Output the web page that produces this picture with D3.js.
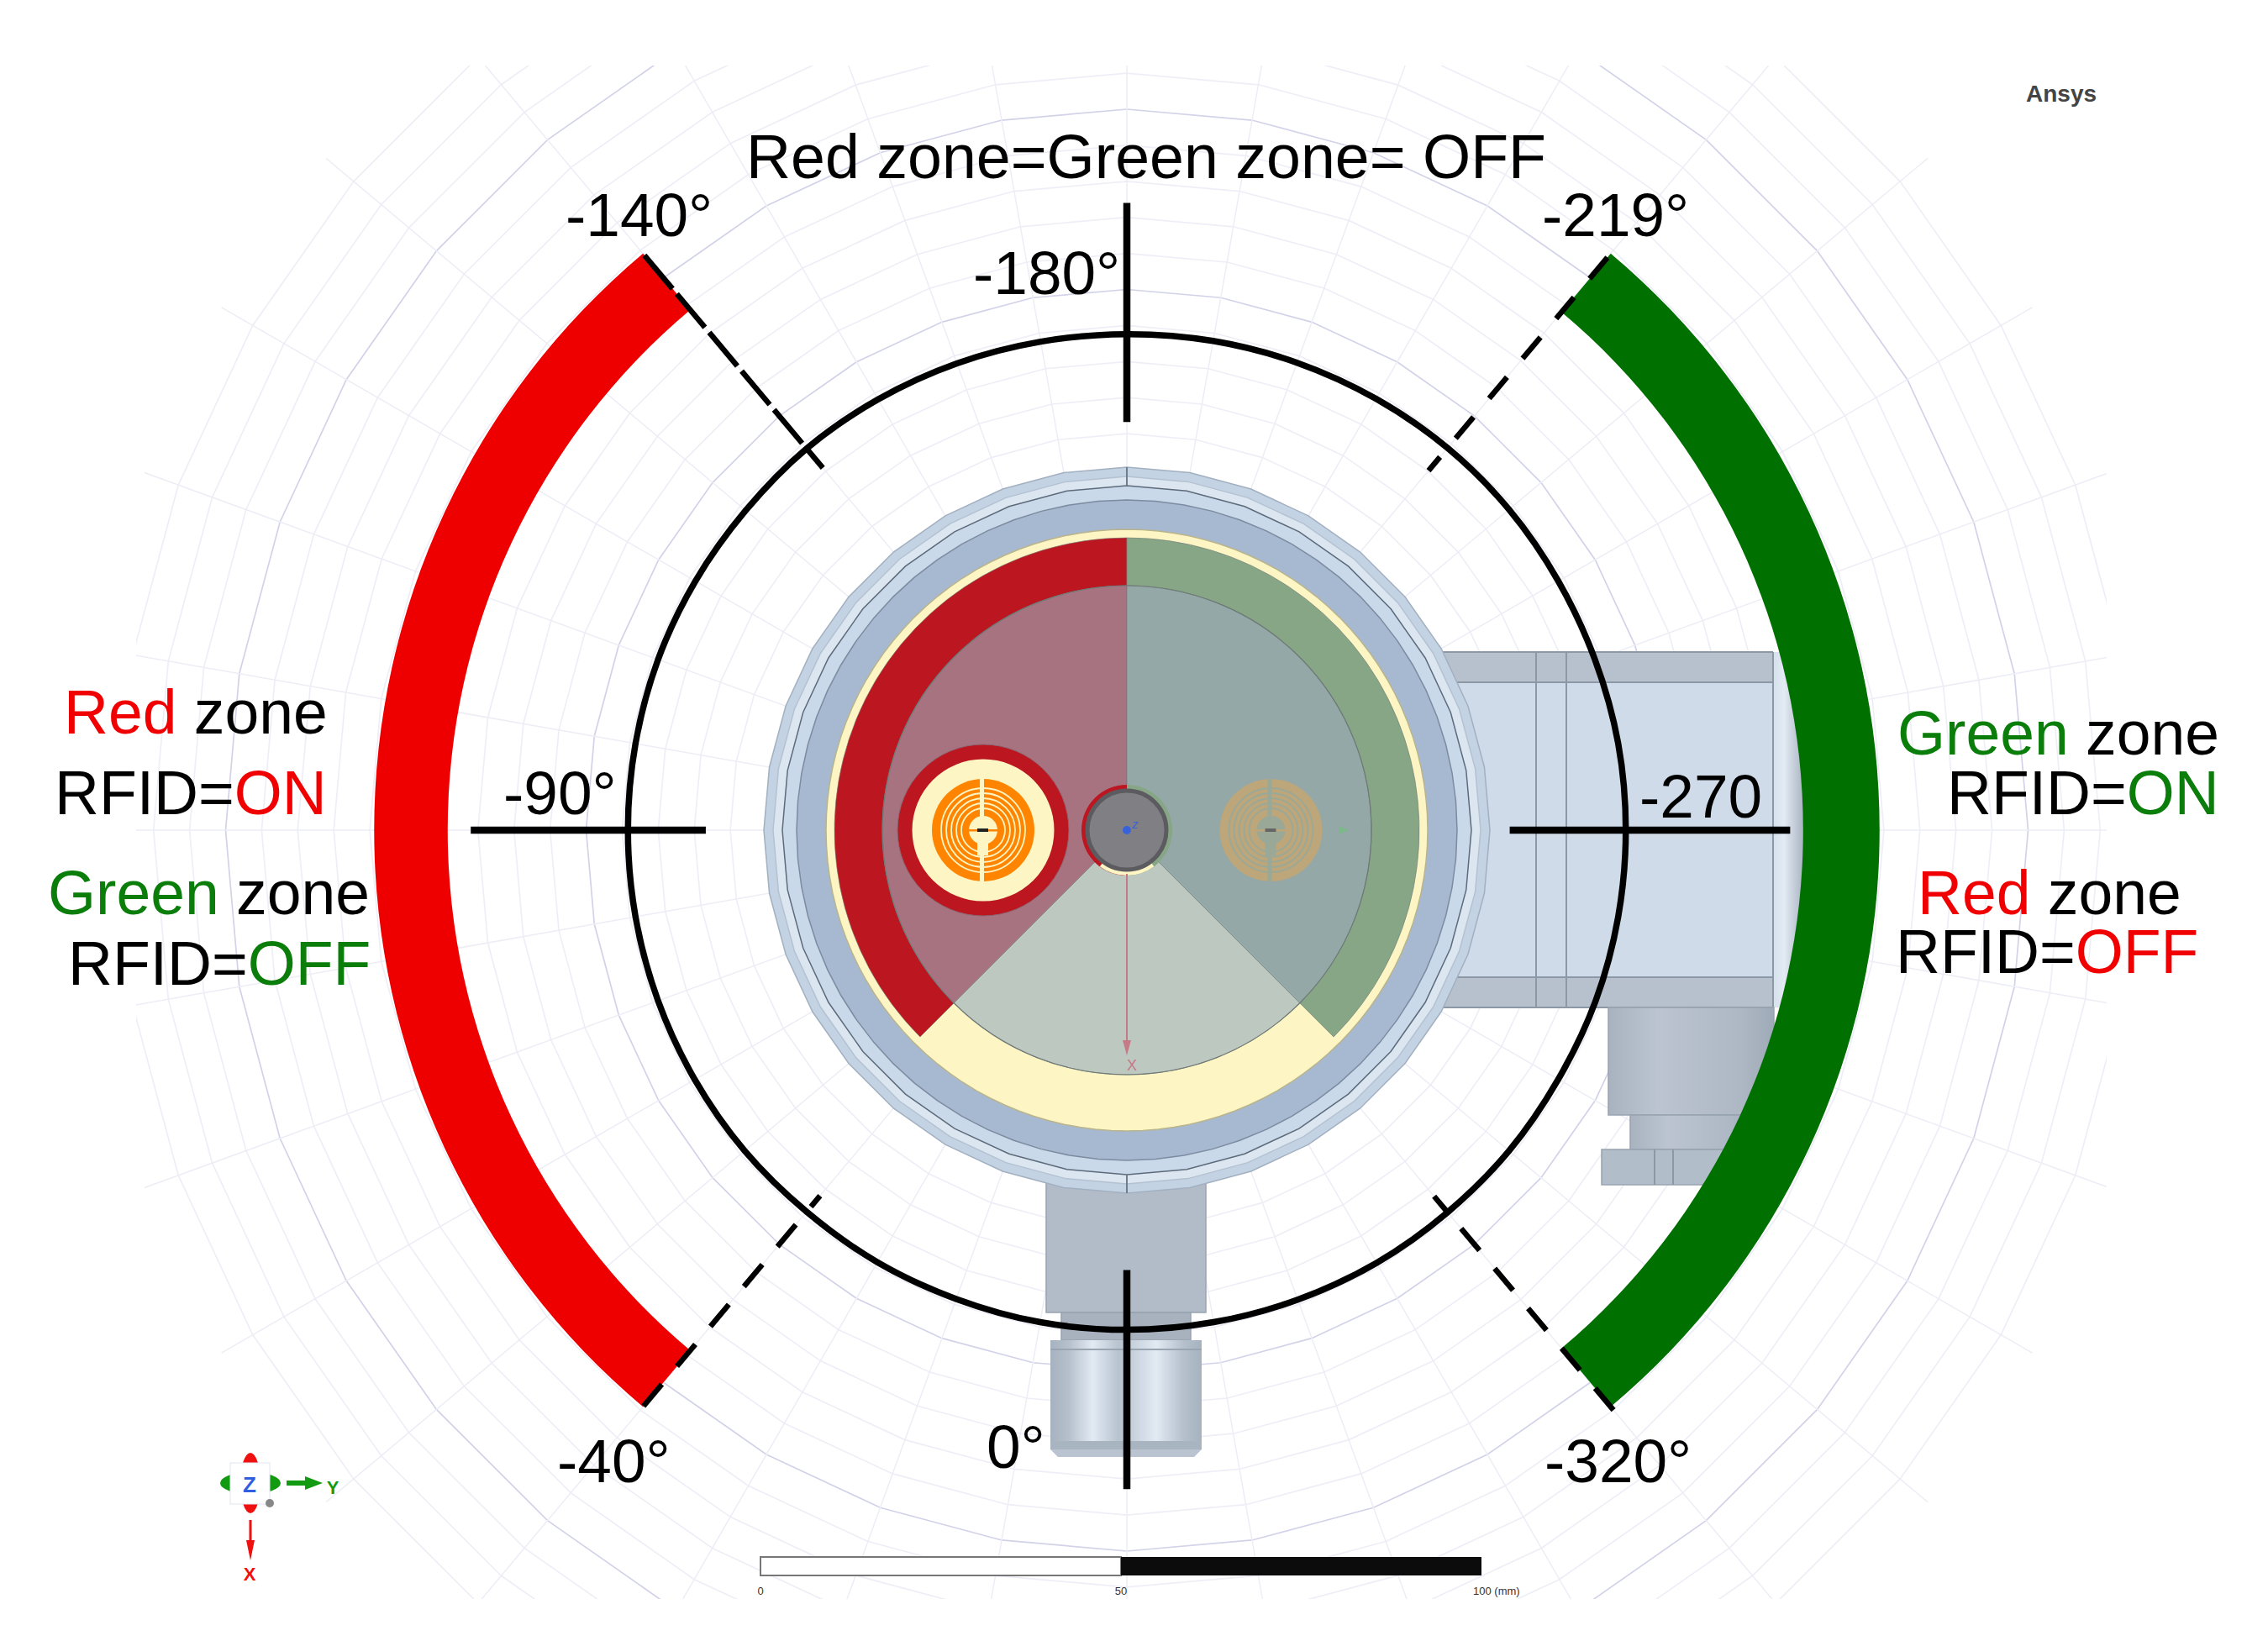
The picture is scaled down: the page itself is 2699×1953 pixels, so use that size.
<!DOCTYPE html>
<html>
<head>
<meta charset="utf-8">
<script src="https://d3js.org/d3.v7.min.js"></script>
<style>
html, body { margin: 0; padding: 0; background: #fff; }
text { font-family: "Liberation Sans", Arial, sans-serif; }
</style>
</head>
<body>
<svg id="chart"></svg>
<script>
const width = 2699;
const height = 1953;
const cx = 1341;
const cy = 988;

// polar grid, all in mm
const gridRings = [5, 10, 15, 20, 25, 30, 35, 40, 45, 50, 55, 60, 65, 70, 75, 80, 85, 90, 95, 100, 105, 110, 115, 120, 125, 130, 135, 140];
const gridSpokes = [0, 10, 20, 30, 40, 50, 60, 70, 80, 90, 100, 110, 120, 130, 140, 150, 160, 170, 180, 190, 200, 210, 220, 230, 240, 250, 260, 270, 280, 290, 300, 310, 320, 330, 340, 350];
const majorRingEvery = 25;
const gridSpokeEnd = 145;

// read range circle: angle (deg) and radius (mm)
const readAngles = [0, -10, -20, -30, -40, -50, -60, -70, -80, -90, -100, -110, -120, -130, -140, -150, -160, -170, -180, -190, -200, -210, -220, -230, -240, -250, -260, -270, -280, -290, -300, -310, -320, -330, -340, -350];
const readRadius = [69.3, 69.3, 69.2, 69.2, 69.1, 69.2, 69.2, 69.2, 69.2, 69.2, 69.2, 69.2, 69.1, 69.0, 69.1, 69.0, 68.9, 68.8, 68.8, 68.9, 69.0, 69.1, 69.2, 69.2, 69.1, 69.1, 69.2, 69.2, 69.2, 69.2, 69.1, 69.2, 69.2, 69.3, 69.3, 69.3];

// zones
const zoneNames = ["Red", "Green"];
const zoneFrom = [-40, -220];
const zoneTo = [-140, -320];
const zoneInner = [94.2, 93.8];
const zoneOuter = [104.4, 104.4];
const zoneColors = ["#ee0000", "#007000"];

// spokes
const solidAngles = [0, -90, -180, -270];
const solidInner = [61, 58.4, 56.6, 53.1];
const solidOuter = [91.4, 91, 87, 92];
const dashAngles = [-40, -140, -220, -320];
const dashInner = [66.2, 65.6, 65.1, 66.3];
const dashOuter = [104.3, 104.1, 103.7, 105];
const dashOn = [34, 52, 33, 34];
const dashOff = [28, 8, 29, 28];

// scale bar
const barTicks = [0, 50, 100];
const barLabels = ["0", "50", "100 (mm)"];

const rScale = d3.scaleLinear().domain([0, 100]).range([0, 858]);
const toRad = d => -(d + 180) * Math.PI / 180;

const svg = d3.select("#chart").attr("width", width).attr("height", height)
    .attr("viewBox", `0 0 ${width} ${height}`)
    .style("display", "block");

const defs = svg.append("defs");
defs.append("clipPath").attr("id", "gridClip")
    .append("rect").attr("x", 162).attr("y", 78).attr("width", 2345).attr("height", 1825);

function addGradient(id, stops) {
    const g = defs.append("linearGradient").attr("id", id);
    stops.forEach(s => g.append("stop").attr("offset", s[0]).attr("stop-color", s[1]));
}
addGradient("nutGrad", [[0, "#a7b2c0"], [0.12, "#b5c0cc"], [0.28, "#e2eaf3"], [0.45, "#b7c3cf"], [0.7, "#e2eaf3"], [0.88, "#b5c0cc"], [1, "#a7b2c0"]]);
addGradient("neckGrad", [[0, "#a9b3c0"], [0.3, "#bbc4d0"], [0.8, "#aeb8c4"], [1, "#9faab8"]]);
addGradient("capGrad", [[0, "#d5e0ec"], [0.35, "#e3ebf4"], [1, "#a8b2c0"]]);

// grid
const gridG = svg.append("g").attr("clip-path", "url(#gridClip)")
    .append("g").attr("transform", `translate(${cx},${cy})`);
const ringLine = d3.lineRadial().curve(d3.curveLinearClosed);
gridG.selectAll(".ring").data(gridRings).join("path")
    .attr("class", "ring")
    .attr("d", r => ringLine(gridSpokes.map(a => [a * Math.PI / 180, rScale(r)])))
    .attr("fill", "none")
    .attr("stroke", r => r % majorRingEvery === 0 ? "#d2d2e9" : "#eeeef7")
    .attr("stroke-width", 1.7);
gridG.selectAll(".spoke").data(gridSpokes).join("line")
    .attr("class", "spoke")
    .attr("x2", a => rScale(gridSpokeEnd) * Math.sin(a * Math.PI / 180))
    .attr("y2", a => -rScale(gridSpokeEnd) * Math.cos(a * Math.PI / 180))
    .attr("stroke", "#ededf6")
    .attr("stroke-width", 1.5);

// device body, offsets in px from the centre
const body = svg.append("g").attr("transform", `translate(${cx},${cy})`);
const lineCol = "#8c98a6";
function box(x0, y0, x1, y1, fill, stroke) {
    return body.append("rect").attr("x", x0).attr("y", y0).attr("width", x1 - x0).attr("height", y1 - y0)
        .attr("fill", fill).attr("stroke", stroke || "none").attr("stroke-width", 1.5);
}
function vline(x, y0, y1, col) {
    body.append("line").attr("x1", x).attr("x2", x).attr("y1", y0).attr("y2", y1).attr("stroke", col || lineCol).attr("stroke-width", 2);
}
function hline(x0, x1, y, col) {
    body.append("line").attr("x1", x0).attr("x2", x1).attr("y1", y).attr("y2", y).attr("stroke", col || lineCol).attr("stroke-width", 2);
}

// right housing
box(340, -212, 770, 211, "#cfdbe9");
box(340, -212, 770, -176, "#b7c1cd");
box(340, 175, 770, 211, "#b7c1cd");
box(769, -212, 806, 211, "url(#capGrad)");
hline(340, 769, -212); hline(340, 769, -176); hline(340, 769, 175); hline(340, 769, 211);
vline(487, -212, 211); vline(523, -212, 211); vline(769, -212, 211);
// lower right connector
box(573, 211, 770, 339, "url(#neckGrad)", "#98a3b0");
box(599, 339, 750, 380, "url(#neckGrad)", "#98a3b0");
box(565, 380, 740, 422, "#b2bdca", "#98a3b0");
vline(628, 380, 422); vline(650, 380, 422);
// bottom connector
box(-96, 405, 94, 574, "#b2bcc8", "#98a3b0");
box(-78, 574, 76, 607, "#a8b2be", "#98a3b0");
box(-91, 607, 89, 727, "url(#nutGrad)");
box(-91, 727, 89, 737, "#a9b4c1");
body.append("path").attr("d", "M-91,737L89,737L80,746L-82,746Z").attr("fill", "#b9c4d0");
hline(-91, 89, 618, "#9aa5b2");

// flange
const polyLine = d3.lineRadial().curve(d3.curveLinearClosed);
function flange(r, n, fill, stroke) {
    const pts = d3.range(n).map(i => [i * 2 * Math.PI / n, r]);
    body.append("path").attr("d", polyLine(pts)).attr("fill", fill).attr("stroke", stroke).attr("stroke-width", 1.5);
}
flange(432, 36, "#c3d3e4", "#a2b0c0");
flange(421, 36, "#dbe6f1", "#b4c1d0");
flange(410, 36, "#c9d9ea", "#5c6a7a");
flange(393, 72, "#a6b9d0", "#7c8ba0");
flange(358, 120, "#fdf5c3", "#b9b48c");
vline(0, -432, -410, "#6f7d8c");
vline(0, 410, 432, "#6f7d8c");

// zone rings inside the device
const innerArc = d3.arc();
const arcs = [
    [-45, -180, 291, 348, "#bc1620"],
    [-180, -315, 291, 348, "#87a686"],
    [-45, -180, 30, 291, "#a87380"],
    [-180, -315, 30, 291, "#94a8a8"],
    [-315, -405, 30, 291, "#bdc8c0"]
];
arcs.forEach(a => {
    body.append("path")
        .attr("d", innerArc({ startAngle: toRad(a[0]), endAngle: toRad(a[1]), innerRadius: a[2], outerRadius: a[3] }))
        .attr("fill", a[4])
        .attr("stroke", "#6f7a78").attr("stroke-width", 0.6);
});
body.append("circle").attr("r", 291).attr("fill", "none").attr("stroke", "#6f7a78").attr("stroke-width", 1.2);

// tag antennas
function tag(x, col, slot, bar) {
    const g = body.append("g").attr("transform", `translate(${x},0)`);
    g.append("circle").attr("r", 61).attr("fill", col);
    [50, 44, 38, 32, 26].forEach(r => {
        g.append("circle").attr("r", r).attr("fill", "none").attr("stroke", slot).attr("stroke-width", 1.8);
    });
    g.append("rect").attr("x", -4).attr("y", -61).attr("width", 5).attr("height", 122).attr("fill", slot);
    g.append("rect").attr("x", -7).attr("y", 0).attr("width", 13).attr("height", 30).attr("fill", slot);
    g.append("circle").attr("r", 17).attr("fill", slot);
    g.append("rect").attr("x", -17).attr("y", -1).attr("width", 34).attr("height", 2.5).attr("fill", col);
    g.append("rect").attr("x", -7).attr("y", -2).attr("width", 13).attr("height", 4).attr("fill", bar);
}
body.append("circle").attr("cx", -171).attr("r", 102).attr("fill", "#bc1620").attr("stroke", "#8c6670").attr("stroke-width", 1);
body.append("circle").attr("cx", -171).attr("r", 84.5).attr("fill", "#fdf5c3");
tag(-171, "#ff8400", "#fdf5c3", "#222");
tag(171.5, "#bda67a", "#9aa897", "#666");

// hub
body.append("path").attr("d", innerArc({ startAngle: 0, endAngle: -Math.PI, innerRadius: 46, outerRadius: 54 })).attr("fill", "#bc1620");
body.append("path").attr("d", innerArc({ startAngle: 0, endAngle: Math.PI, innerRadius: 46, outerRadius: 54 })).attr("fill", "#87a686");
body.append("path").attr("d", innerArc({ startAngle: 2.5, endAngle: 3.78, innerRadius: 46, outerRadius: 54 })).attr("fill", "#fdf5c3");
body.append("circle").attr("r", 47).attr("fill", "#808084").attr("stroke", "#5c5c60").attr("stroke-width", 5);
body.append("circle").attr("r", 5).attr("fill", "#3a62d8");
body.append("text").attr("x", 6).attr("y", -2).attr("font-size", 15).attr("fill", "#3a62d8").attr("font-style", "italic").text("z");

// local axis marks
body.append("line").attr("x1", 0).attr("x2", 0).attr("y1", 52).attr("y2", 262).attr("stroke", "#c67a86").attr("stroke-width", 2);
body.append("path").attr("d", "M-5,250L5,250L0,268Z").attr("fill", "#c67a86");
body.append("text").attr("x", 6).attr("y", 286).attr("text-anchor", "middle").attr("font-size", 18).attr("fill", "#c67a86").text("X");
body.append("path").attr("d", "M252,-5L252,5L264,0Z").attr("fill", "#7cb889");

// zones
const plot = svg.append("g").attr("transform", `translate(${cx},${cy})`);
const zoneArc = d3.arc();
plot.selectAll(".zone").data(zoneNames).join("path")
    .attr("class", "zone")
    .attr("d", (d, i) => zoneArc({
        startAngle: toRad(zoneFrom[i]), endAngle: toRad(zoneTo[i]),
        innerRadius: rScale(zoneInner[i]), outerRadius: rScale(zoneOuter[i])
    }))
    .attr("fill", (d, i) => zoneColors[i]);

// read circle
plot.append("path")
    .attr("d", d3.lineRadial().curve(d3.curveCatmullRomClosed)(readAngles.map((a, i) => [toRad(a), rScale(readRadius[i])])))
    .attr("fill", "none").attr("stroke", "#000").attr("stroke-width", 7.5);

function spokeEnd(a, r) {
    return [rScale(r) * Math.sin(toRad(a)), -rScale(r) * Math.cos(toRad(a))];
}
plot.selectAll(".solid").data(solidAngles).join("line")
    .attr("class", "solid")
    .attr("x1", (a, i) => spokeEnd(a, solidInner[i])[0]).attr("y1", (a, i) => spokeEnd(a, solidInner[i])[1])
    .attr("x2", (a, i) => spokeEnd(a, solidOuter[i])[0]).attr("y2", (a, i) => spokeEnd(a, solidOuter[i])[1])
    .attr("stroke", "#000").attr("stroke-width", 8.5);
plot.selectAll(".dash").data(dashAngles).join("line")
    .attr("class", "dash")
    .attr("x1", (a, i) => spokeEnd(a, dashOuter[i])[0]).attr("y1", (a, i) => spokeEnd(a, dashOuter[i])[1])
    .attr("x2", (a, i) => spokeEnd(a, dashInner[i])[0]).attr("y2", (a, i) => spokeEnd(a, dashInner[i])[1])
    .attr("stroke", "#000").attr("stroke-width", 6.5)
    .attr("stroke-dasharray", (a, i) => dashOn[i] + "," + dashOff[i]);

// labels
const labelText = ["-140°", "-219°", "-180°", "-90°", "-270", "0°", "-40°", "-320°"];
const labelX = [673, 1835, 1158, 599, 1951, 1174, 663, 1838];
const labelY = [281, 281, 350, 969, 973, 1747, 1764, 1764];
const labelSize = 73;
svg.selectAll(".deg").data(labelText).join("text")
    .attr("class", "deg")
    .attr("x", (d, i) => labelX[i]).attr("y", (d, i) => labelY[i])
    .attr("font-size", labelSize).attr("fill", "#000")
    .text(d => d);

const titleText = "Red zone=Green zone= OFF";
svg.append("text").attr("x", 888).attr("y", 212).attr("font-size", 73.5).attr("fill", "#000").text(titleText);

const noteFirst = ["Red", "RFID=", "Green", "RFID=", "Green", "RFID=", "Red", "RFID="];
const noteSecond = [" zone", "ON", " zone", "OFF", " zone", "ON", " zone", "OFF"];
const noteFirstCol = ["#f00000", "#000", "#0a7d0a", "#000", "#0a7d0a", "#000", "#f00000", "#000"];
const noteSecondCol = ["#000", "#f00000", "#000", "#0a7d0a", "#000", "#0a7d0a", "#000", "#f00000"];
const noteX = [76, 65, 57, 81, 2258, 2317, 2282, 2256];
const noteY = [873, 969, 1088, 1172, 898, 969, 1088, 1158];
const notes = svg.selectAll(".note").data(noteFirst).join("text")
    .attr("class", "note")
    .attr("x", (d, i) => noteX[i]).attr("y", (d, i) => noteY[i])
    .attr("font-size", 73.3).style("white-space", "pre");
notes.append("tspan").text(d => d).attr("fill", (d, i) => noteFirstCol[i]);
notes.append("tspan").text((d, i) => noteSecond[i]).attr("fill", (d, i) => noteSecondCol[i]);

svg.append("text").attr("x", 2411).attr("y", 121).attr("font-size", 28).attr("font-weight", "bold").attr("fill", "#444").text("Ansys");

// scale bar
const barScale = d3.scaleLinear().domain([0, 100]).range([905, 1763]);
const barY = 1853;
const barH = 22;
svg.append("rect").attr("x", barScale(0)).attr("y", barY).attr("width", barScale(50) - barScale(0)).attr("height", barH)
    .attr("fill", "#fff").attr("stroke", "#777").attr("stroke-width", 2);
svg.append("rect").attr("x", barScale(50)).attr("y", barY).attr("width", barScale(100) - barScale(50)).attr("height", barH)
    .attr("fill", "#0c0c0c");
svg.selectAll(".barTick").data(barTicks).join("text")
    .attr("class", "barTick")
    .attr("x", (d, i) => barScale(d) + (i === 2 ? -10 : 0)).attr("y", 1898)
    .attr("text-anchor", (d, i) => i === 2 ? "start" : "middle")
    .attr("font-size", 13).attr("fill", "#333")
    .text((d, i) => barLabels[i]);

// triad
const triad = svg.append("g").attr("transform", "translate(298,1765)");
triad.append("ellipse").attr("cy", 0).attr("rx", 12).attr("ry", 36).attr("fill", "#f01010");
triad.append("ellipse").attr("rx", 36).attr("ry", 13).attr("fill", "#129a12");
triad.append("rect").attr("x", -24).attr("y", -24).attr("width", 47).attr("height", 49).attr("fill", "#fff").attr("stroke", "#dfe6ef");
triad.append("text").attr("x", -1).attr("y", 11).attr("text-anchor", "middle").attr("font-size", 26).attr("font-weight", "bold").attr("fill", "#2f5fe0").text("Z");
triad.append("circle").attr("cx", 23).attr("cy", 24).attr("r", 5).attr("fill", "#888");
triad.append("path").attr("d", "M43,-3L65,-3L65,-8L86,0L65,8L65,3L43,3Z").attr("fill", "#129a12");
triad.append("text").attr("x", 98).attr("y", 13).attr("text-anchor", "middle").attr("font-size", 22).attr("font-weight", "bold").attr("fill", "#129a12").text("Y");
triad.append("path").attr("d", "M-1.5,44L1.5,44L1.5,68L5,68L0,92L-5,68L-1.5,68Z").attr("fill", "#f01010");
triad.append("text").attr("x", -1).attr("y", 116).attr("text-anchor", "middle").attr("font-size", 22).attr("font-weight", "bold").attr("fill", "#f01010").text("X");
</script>
</body>
</html>
